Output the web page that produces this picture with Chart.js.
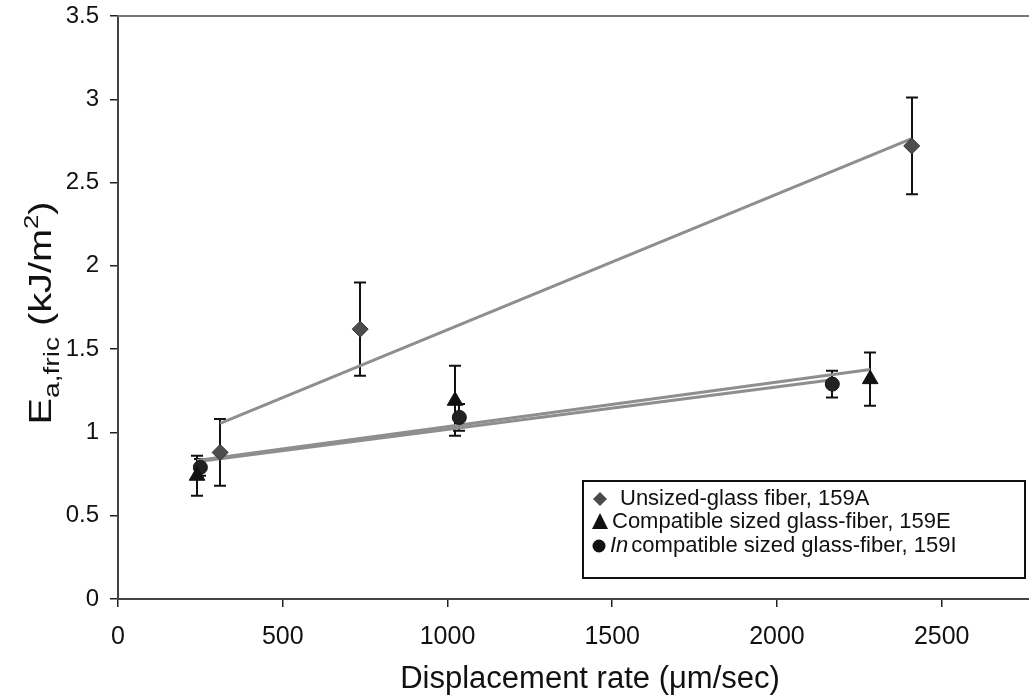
<!DOCTYPE html>
<html>
<head>
<meta charset="utf-8">
<script src="https://cdn.jsdelivr.net/npm/chart.js@4.4.1/dist/chart.umd.min.js"></script>
<style>
  html, body { margin: 0; padding: 0; background: #ffffff; overflow: hidden; }
  #wrap { width: 1029px; height: 697px; overflow: hidden; }
</style>
</head>
<body>
<div id="wrap"><canvas id="c" width="1039" height="697"></canvas></div>
<script>
// Displacement rate (um/sec) and frictional energy (kJ/m^2) with error half-widths
const unsizedRate = [310, 735, 2409];
const unsizedE    = [0.88, 1.62, 2.72];
const unsizedErr  = [0.20, 0.28, 0.29];

const compatRate  = [240, 1023, 2283];
const compatE     = [0.74, 1.19, 1.32];
const compatErr   = [0.12, 0.21, 0.16];

const incompRate  = [250, 1036, 2168];
const incompE     = [0.79, 1.09, 1.29];
const incompErr   = [0.05, 0.08, 0.08];

const seriesNames = [
  'Unsized-glass fiber, 159A',
  'Compatible sized glass-fiber, 159E',
  'compatible sized glass-fiber, 159I'
];

const xTickValues = [0, 500, 1000, 1500, 2000, 2500];
const yTickValues = [0, 0.5, 1, 1.5, 2, 2.5, 3, 3.5];

const FONT = '"Liberation Sans", Arial, sans-serif';

function pts(xs, ys) { return xs.map((x, i) => ({ x: x, y: ys[i] })); }

// least-squares trend line spanning the series' own x range
function trend(xs, ys) {
  const n = xs.length;
  const mx = xs.reduce((a, b) => a + b, 0) / n;
  const my = ys.reduce((a, b) => a + b, 0) / n;
  let sxx = 0, sxy = 0;
  for (let i = 0; i < n; i++) { sxx += (xs[i] - mx) ** 2; sxy += (xs[i] - mx) * (ys[i] - my); }
  const b = sxy / sxx, a = my - b * mx;
  const x0 = Math.min(...xs), x1 = Math.max(...xs);
  return [{ x: x0, y: a + b * x0 }, { x: x1, y: a + b * x1 }];
}

const trendStyle = { type: 'line', borderColor: '#8e8e8e', borderWidth: 3, pointRadius: 0, fill: false, order: 3 };

// vertical error bars with caps, drawn through the chart's scales
const errorBars = {
  id: 'errorBars',
  beforeDatasetsDraw(chart) {
    const ctx = chart.ctx, xs = chart.scales.x, ys = chart.scales.y;
    ctx.save();
    ctx.strokeStyle = '#111';
    ctx.lineWidth = 2;
    chart.data.datasets.forEach(ds => {
      if (!ds.errors) return;
      ds.data.forEach((p, i) => {
        const e = ds.errors[i];
        const px = Math.round(xs.getPixelForValue(p.x));
        const top = ys.getPixelForValue(p.y + e);
        const bot = ys.getPixelForValue(p.y - e);
        ctx.beginPath();
        ctx.moveTo(px, top); ctx.lineTo(px, bot);
        ctx.moveTo(px - 6, top); ctx.lineTo(px + 6, top);
        ctx.moveTo(px - 6, bot); ctx.lineTo(px + 6, bot);
        ctx.stroke();
      });
    });
    ctx.restore();
  }
};

// frame top edge, axis titles and boxed key
const decorations = {
  id: 'decorations',
  afterDraw(chart) {
    const ctx = chart.ctx, ca = chart.chartArea;
    ctx.save();

    ctx.strokeStyle = '#777';
    ctx.lineWidth = 2;
    ctx.beginPath();
    ctx.moveTo(ca.left, ca.top); ctx.lineTo(chart.width, ca.top);
    ctx.stroke();

    // x title
    ctx.fillStyle = '#111';
    ctx.font = '31px ' + FONT;
    ctx.textAlign = 'center';
    ctx.textBaseline = 'alphabetic';
    ctx.fillText('Displacement rate (\u03bcm/sec)', 590, 688);

    // y title with subscript and superscript
    const parts = [
      ['E', 31, 0], ['a,fric', 22, 8], [' (kJ/m', 31, 0], ['2', 20, -13], [')', 31, 0]
    ];
    let total = 0;
    parts.forEach(p => { ctx.font = p[1] + 'px ' + FONT; total += ctx.measureText(p[0]).width; });
    ctx.translate(51, 313);
    ctx.rotate(-Math.PI / 2);
    ctx.scale(1.28, 1);
    ctx.textAlign = 'left';
    let cx = -total / 2;
    parts.forEach(p => {
      ctx.font = p[1] + 'px ' + FONT;
      ctx.fillText(p[0], cx, p[2]);
      cx += ctx.measureText(p[0]).width;
    });
    ctx.setTransform(1, 0, 0, 1, 0, 0);

    // key
    ctx.fillStyle = '#fff';
    ctx.fillRect(583, 481, 442, 97);
    ctx.strokeStyle = '#111';
    ctx.lineWidth = 2;
    ctx.strokeRect(583, 481, 442, 97);

    const rows = [499, 522, 546];
    ctx.font = '22px ' + FONT;
    ctx.textBaseline = 'middle';

    // diamond
    ctx.fillStyle = '#4a4a4a';
    ctx.beginPath();
    ctx.moveTo(600, rows[0] - 7); ctx.lineTo(607, rows[0]); ctx.lineTo(600, rows[0] + 7); ctx.lineTo(593, rows[0]);
    ctx.closePath(); ctx.fill();
    ctx.fillStyle = '#111';
    ctx.fillText(seriesNames[0], 620, rows[0]);

    // triangle
    ctx.beginPath();
    ctx.moveTo(600, rows[1] - 9); ctx.lineTo(608, rows[1] + 7); ctx.lineTo(592, rows[1] + 7);
    ctx.closePath(); ctx.fill();
    ctx.fillText(seriesNames[1], 612, rows[1]);

    // circle
    ctx.beginPath();
    ctx.arc(599, rows[2], 6.5, 0, Math.PI * 2);
    ctx.fill();
    ctx.font = 'italic 22px ' + FONT;
    ctx.fillText('In', 610, rows[2]);
    const w = ctx.measureText('In').width;
    ctx.font = '22px ' + FONT;
    ctx.fillText(seriesNames[2], 610 + w + 3, rows[2]);

    ctx.restore();
  }
};

new Chart(document.getElementById('c'), {
  type: 'scatter',
  data: {
    datasets: [
      { label: seriesNames[0], data: pts(unsizedRate, unsizedE), errors: unsizedErr,
        pointStyle: 'rectRot', pointRadius: 8, backgroundColor: '#4d4d4d', borderColor: '#333', borderWidth: 1, order: 1 },
      { label: seriesNames[1], data: pts(compatRate, compatE), errors: compatErr,
        pointStyle: 'triangle', pointRadius: 9, backgroundColor: '#111', borderColor: '#111', borderWidth: 1, order: 1 },
      { label: 'In' + seriesNames[2], data: pts(incompRate, incompE), errors: incompErr,
        pointStyle: 'circle', pointRadius: 7, backgroundColor: '#222', borderColor: '#111', borderWidth: 1, order: 2 },
      Object.assign({ data: trend(unsizedRate, unsizedE) }, trendStyle),
      Object.assign({ data: trend(compatRate, compatE) }, trendStyle),
      Object.assign({ data: trend(incompRate, incompE) }, trendStyle)
    ]
  },
  options: {
    responsive: false,
    animation: false,
    layout: { padding: { top: 16, right: 0, left: 0, bottom: 0 } },
    plugins: { legend: { display: false }, tooltip: { enabled: false } },
    scales: {
      x: {
        type: 'linear', min: 0, max: 2765,
        afterBuildTicks: s => { s.ticks = xTickValues.map(v => ({ value: v })); },
        afterFit: s => { s.height = 98; },
        grid: { drawOnChartArea: false, drawTicks: true, tickLength: 8, color: '#222', lineWidth: 1.5 },
        border: { color: '#444', width: 2 },
        ticks: { color: '#111', font: { family: FONT, size: 25 }, padding: 15, maxRotation: 0,
                 callback: v => String(v) }
      },
      y: {
        type: 'linear', min: 0, max: 3.5,
        afterBuildTicks: s => { s.ticks = yTickValues.map(v => ({ value: v })); },
        afterFit: s => { s.width = 118; s.paddingTop = 0; s.paddingBottom = 0; },
        grid: { drawOnChartArea: false, drawTicks: true, tickLength: 8, color: '#222', lineWidth: 1.5 },
        border: { color: '#444', width: 2 },
        ticks: { color: '#111', font: { family: FONT, size: 24 }, padding: 11,
                 callback: v => String(v) }
      }
    }
  },
  plugins: [errorBars, decorations]
});
</script>
</body>
</html>
